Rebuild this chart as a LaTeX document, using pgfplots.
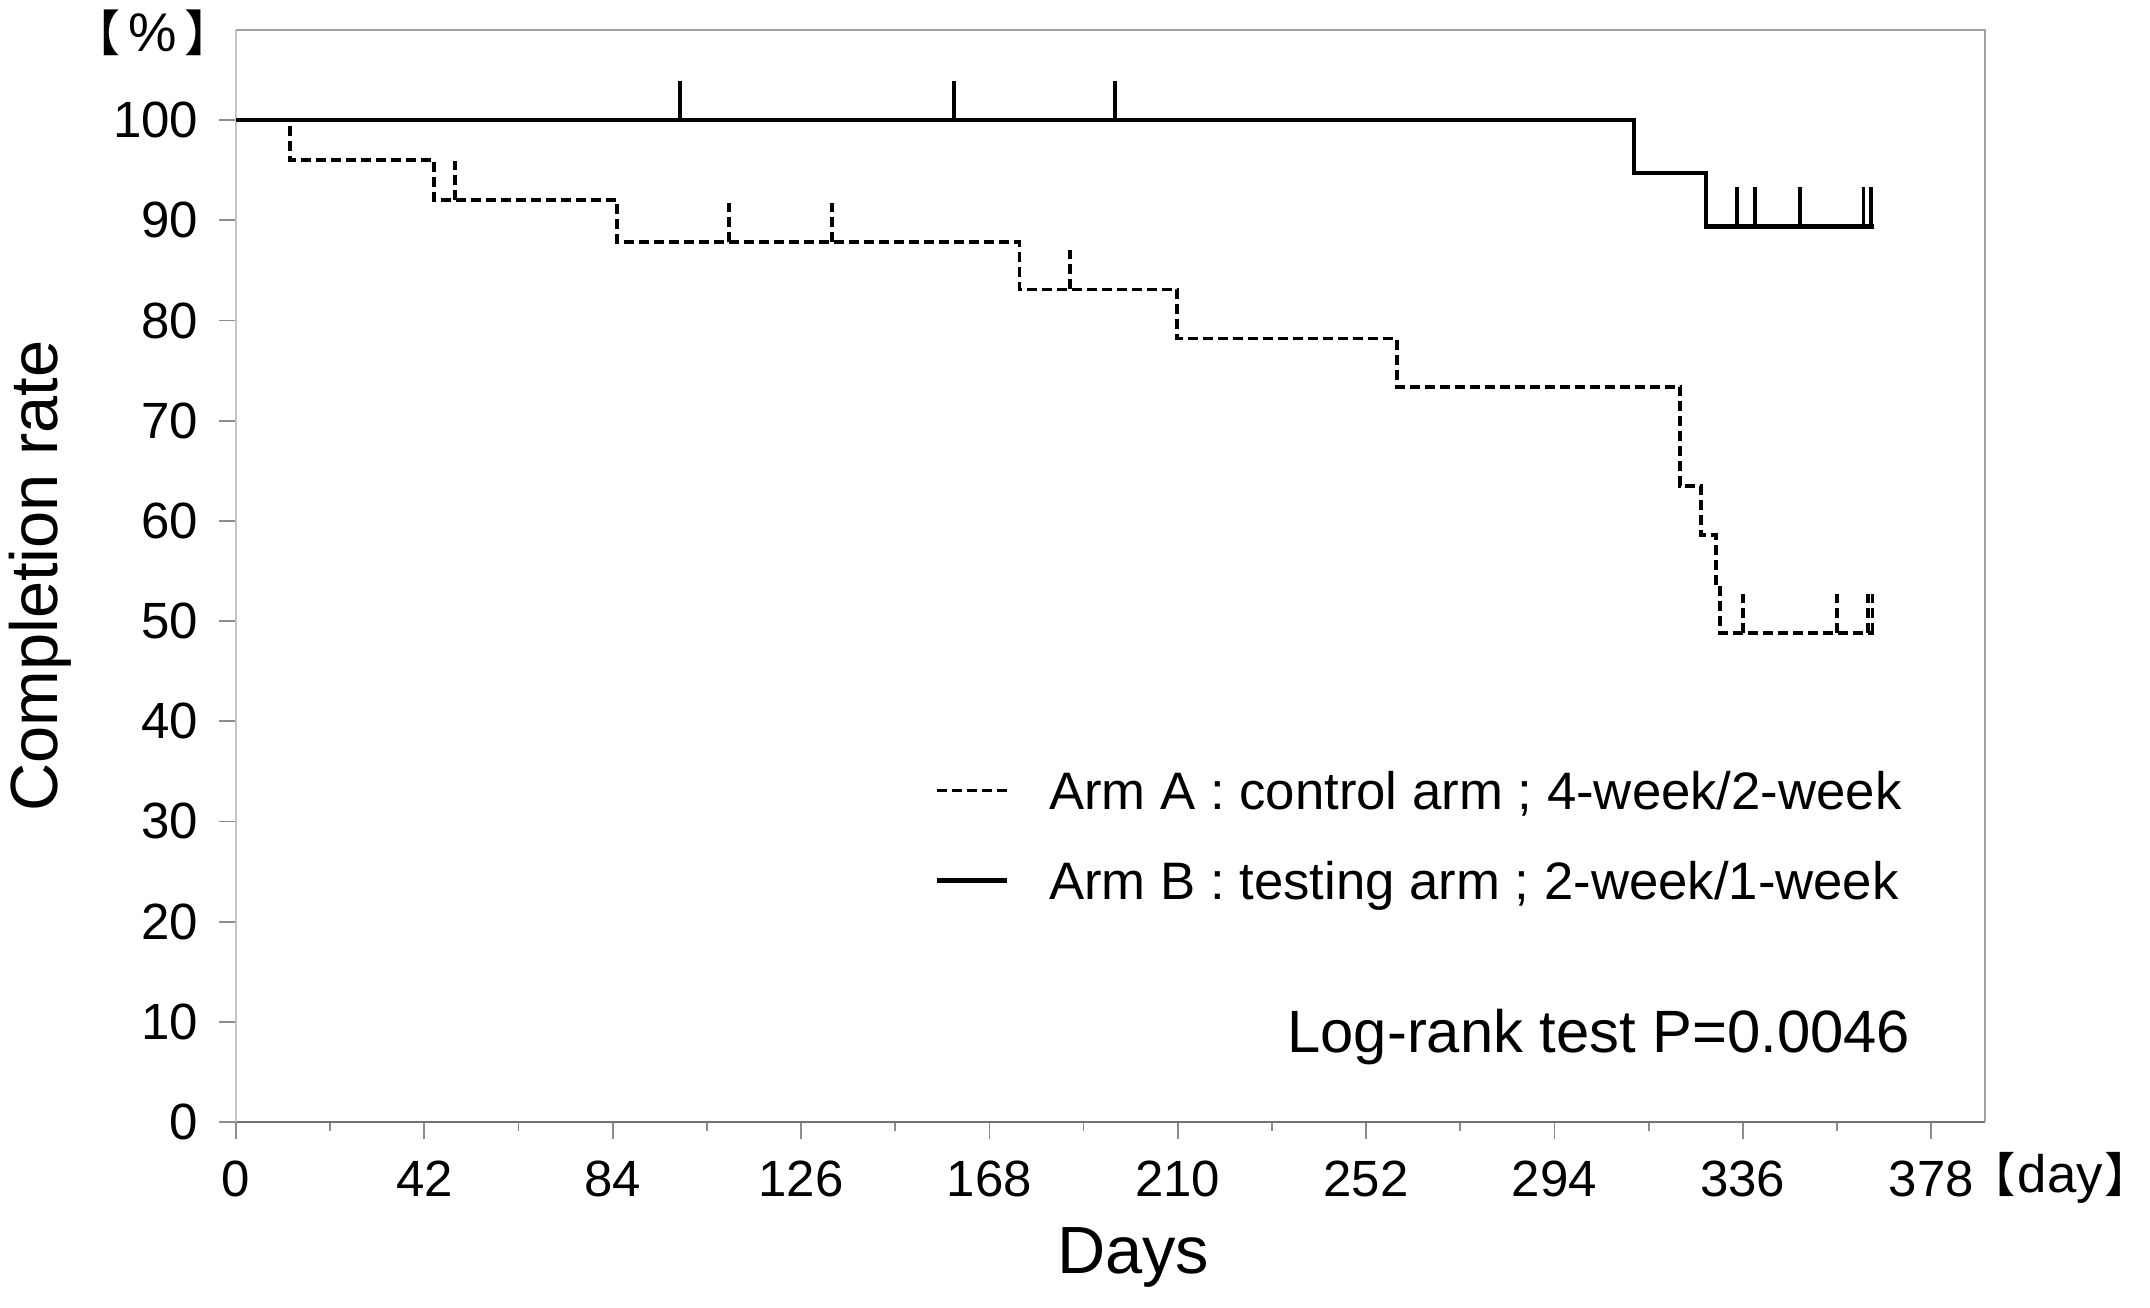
\documentclass[border=0pt]{standalone}
\usepackage{fontspec}
\setmainfont{Liberation Sans}
\newfontfamily\cjk{Noto Sans CJK JP}[RawFeature=+palt]
\usepackage{pgfplots}
\pgfplotsset{compat=1.18}
\definecolor{xaxgray}{RGB}{115,115,115}
\definecolor{yaxgray}{RGB}{195,195,195}
\definecolor{tickgray}{RGB}{140,140,140}
\definecolor{framegray}{RGB}{160,160,160}
\pgfdeclareplotmark{censor}{\pgfpathmoveto{\pgfpointorigin}\pgfpathlineto{\pgfpoint{0pt}{3.9mm}}\pgfusepathqstroke}
\begin{document}
\begin{tikzpicture}
\useasboundingbox (-23.6mm,-18.5mm) rectangle (191.4mm,112.2mm);
\begin{axis}[
  at={(0,0)}, anchor=south west,
  scale only axis, width=174.9mm, height=109.2mm,
  xmin=0, xmax=390, ymin=0, ymax=109,
  axis lines=left, axis line style={-, line width=0.6pt},
  x axis line style={xaxgray}, y axis line style={yaxgray},
  xtick={0,42,...,378}, ytick={0,10,...,100},
  minor x tick num=1,
  tick align=outside,
  major tick length=1.7mm, minor tick length=0.85mm,
  every tick/.style={tickgray, line width=0.5pt},
  /pgf/number format/assume math mode=true,
  tick label style={font=\fontsize{14.5}{17}\selectfont, black},
  yticklabel style={anchor=east, inner sep=0pt, xshift=-2.0mm},
  xticklabel style={anchor=north, inner sep=0pt, yshift=-2.1mm},
  clip=false,
  xlabel={Days}, ylabel={Completion rate},
  label style={font=\fontsize{19}{22}\selectfont},
  xlabel style={at={(axis description cs:0.513,-0.1236)}, anchor=center},
  ylabel style={at={(axis description cs:-0.1121,0.5)}, anchor=center, rotate=0},
  legend cell align=left,
  legend image code/.code={\draw[#1] (0mm,0mm) -- (7.0mm,0mm);},
  legend style={at={(axis cs:155.8,28.6)}, anchor=west, draw=none, fill=none,
    inner sep=0pt, outer sep=0pt, font=\fontsize{15}{18}\selectfont,
    row sep=2.6mm, column sep=4.0mm,
    nodes={inner sep=0pt, text height=5.1mm, text depth=1.3mm}},
]
\addplot[black, line width=1.1pt, dash pattern=on 1.0mm off 0.5mm, const plot] coordinates {
(0,100) (12,96) (44.1,92) (84.9,87.8) (174.7,83.1) (209.8,78.2) (258.8,73.4)
(322,63.5) (326.7,58.6) (330,53.8) (330.9,48.8) (365.3,48.8)};
\addlegendentry{Arm A : control arm ; 4-week/2-week}
\addplot[black, line width=1.25pt, const plot] coordinates {
(0,100) (311.7,94.7) (327.8,89.4) (365.2,89.4)};
\addlegendentry{Arm B : testing arm ; 2-week/1-week}
\addplot[forget plot, only marks, black, mark=censor,
  mark options={line width=1.1pt, dash pattern=on 1.0mm off 0.5mm}] coordinates {
(48.8,92) (110,87.8) (132.9,87.8) (186,83.1) (336,48.8) (357,48.8) (363.9,48.8) (364.9,48.8)};
\addplot[forget plot, only marks, black, mark=censor,
  mark options={line width=1.1pt, solid}] coordinates {
(99,100) (160.1,100) (196,100) (334.7,89.4) (338.8,89.4) (348.8,89.4) (362.9,89.4) (364.5,89.4)};
\draw[framegray, line width=0.6pt] (rel axis cs:0,1) -- (rel axis cs:1,1) -- (rel axis cs:1,0);
\node[anchor=base east, inner sep=0pt, font=\fontsize{17}{20}\selectfont] at (axis cs:373.5,6.9) {Log-rank test P=0.0046};
\node[anchor=center, inner sep=0pt, font=\fontsize{15.5}{18}\selectfont] at (rel axis cs:-0.0477,0.9974) {{\fontsize{14}{16}\cjk【}\,\%\,{\fontsize{14}{16}\cjk】}};
\node[anchor=center, inner sep=0pt, font=\fontsize{15}{18}\selectfont] at (rel axis cs:1.043,-0.0508) {{\fontsize{13.5}{16}\cjk【}\kern0.3mm day\kern0.3mm{\fontsize{13.5}{16}\cjk】}};
\end{axis}
\end{tikzpicture}
\end{document}
